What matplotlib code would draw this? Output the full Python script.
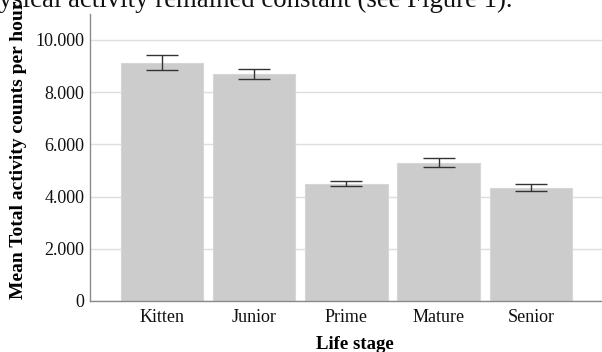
import numpy as np
import matplotlib
matplotlib.use("Agg")
import matplotlib.pyplot as plt
from matplotlib.ticker import FuncFormatter

plt.rcParams["font.family"] = ["Liberation Serif", "DejaVu Serif"]

stages = ["Kitten", "Junior", "Prime", "Mature", "Senior"]
means = [9130, 8690, 4495, 5300, 4335]
err = [290, 205, 100, 160, 135]

fig = plt.figure(figsize=(6.02, 3.52), dpi=100)
ax = fig.add_axes([0.1495, 0.145, 0.8505, 0.816])

x = np.arange(len(stages))
ax.bar(x, means, 0.895, color="#cccccc", edgecolor="#d6d6d6", linewidth=0.8, zorder=2)
ax.errorbar(x, means, yerr=err, fmt="none", ecolor="#333333",
            elinewidth=1.0, capsize=11.5, capthick=1.0, zorder=3)

ax.set_xlim(-0.78, 4.77)
ax.set_ylim(0, 11000)
ax.set_yticks(np.arange(0, 10001, 2000))
ax.yaxis.set_major_formatter(FuncFormatter(lambda v, p: f"{int(v):,}".replace(",", ".")))
ax.yaxis.grid(True, color="#dedede", linewidth=1.0, zorder=0)
ax.set_axisbelow(True)

ax.set_xticks(x)
ax.set_xticklabels(stages)
ax.tick_params(axis="both", length=0, labelsize=13, colors="#111111")
ax.tick_params(axis="x", pad=6)
ax.tick_params(axis="y", pad=4)

for s in ["top", "right"]:
    ax.spines[s].set_visible(False)
for s in ["left", "bottom"]:
    ax.spines[s].set_color("#8a8a8a")
    ax.spines[s].set_linewidth(1.0)

ax.set_xlabel("Life stage", fontsize=13.5, fontweight="bold")
ax.xaxis.set_label_coords(0.5176, -0.153)
ax.xaxis.label.set_va("center")
ax.set_ylabel("Mean Total activity counts per hour", fontsize=14, fontweight="bold")
ax.yaxis.set_label_coords(-0.1396, 0.525)
ax.yaxis.label.set_va("center")

# sentence from the surrounding document, clipped at the top edge
fig.text(513 / 602, 1 - 7 / 352, "physical activity remained constant (see Figure 1).",
         ha="right", va="baseline", fontsize=19.3, color="#111111")

fig.savefig("out.png", dpi=100)
